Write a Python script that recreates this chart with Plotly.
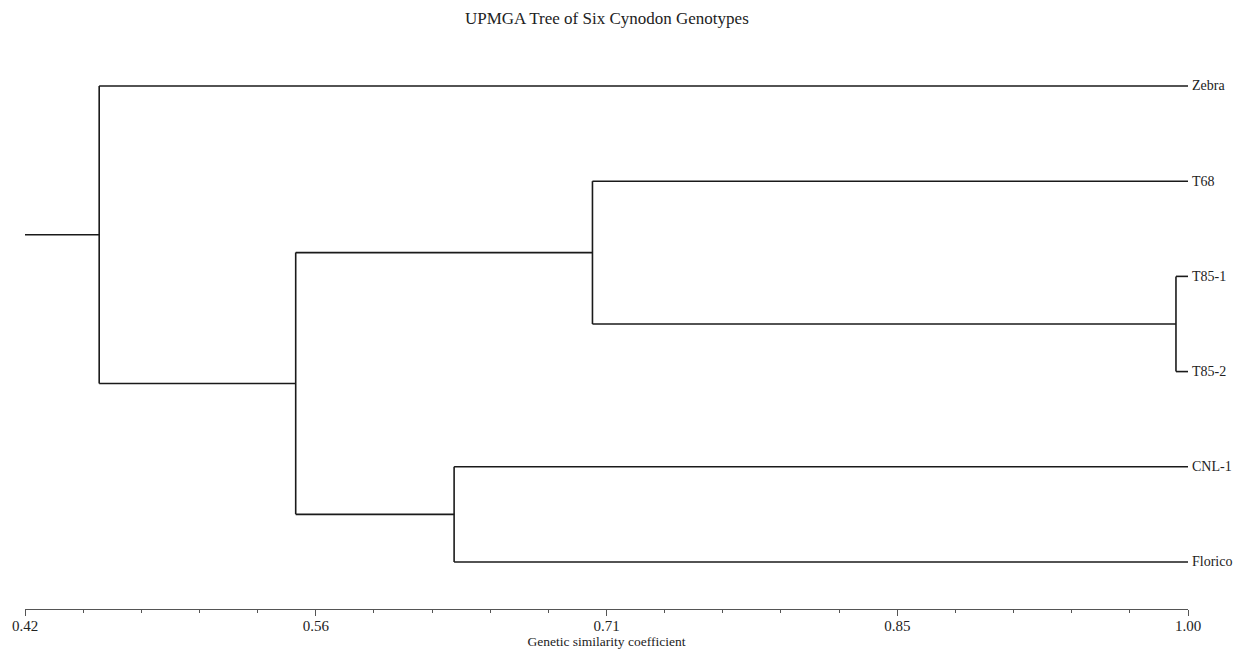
import plotly.graph_objects as go

# ---- data ----
leaves = ["Zebra", "T68", "T85-1", "T85-2", "CNL-1", "Florico"]
# merges: (child a, child b, similarity); ids >= 6 refer to earlier merges (6 = first merge, ...)
merge_a = [2, 4, 1, 7, 0]
merge_b = [3, 5, 6, 8, 9]
merge_sim = [0.994, 0.634, 0.703, 0.555, 0.457]
root_sim = 0.42
tick_vals = [0.42, 0.565, 0.71, 0.855, 1.00]
tick_text = ["0.42", "0.56", "0.71", "0.85", "1.00"]

# ---- build dendrogram coordinates ----
node_x = {i: 1.0 for i in range(len(leaves))}
node_y = {i: float(i) for i in range(len(leaves))}
xs, ys = [], []
for k, (a, b, s) in enumerate(zip(merge_a, merge_b, merge_sim)):
    nid = len(leaves) + k
    ya, yb = node_y[a], node_y[b]
    xs += [s, node_x[a], None, s, node_x[b], None]
    ys += [ya, ya, None, yb, yb, None]
    xs += [s, s, None]
    ys += [ya, yb, None]
    node_x[nid] = s
    node_y[nid] = (ya + yb) / 2
root = len(leaves) + len(merge_sim) - 1
xs += [root_sim, node_x[root], None]
ys += [node_y[root], node_y[root], None]

FONT = "Liberation Serif"

fig = go.Figure()
fig.add_trace(go.Scatter(x=xs, y=ys, mode="lines",
                         line=dict(color="#1a1a1a", width=1.6),
                         hoverinfo="skip", showlegend=False, cliponaxis=False))

for i, name in enumerate(leaves):
    fig.add_annotation(x=1.0, y=i, text=name, showarrow=False, xanchor="left",
                       yanchor="middle", xshift=2,
                       font=dict(family=FONT, size=14, color="#222"))

fig.update_layout(
    width=1241, height=654,
    margin=dict(l=25, r=53, t=38, b=45, autoexpand=False),
    paper_bgcolor="white", plot_bgcolor="white",
    title=dict(text="UPMGA Tree of Six Cynodon Genotypes", x=0.489, xanchor="center",
               y=0.973, yanchor="middle",
               font=dict(family=FONT, size=17, color="#222")),
    xaxis=dict(range=[0.42, 1.0], tickvals=tick_vals, ticktext=tick_text,
               automargin=False,
               showgrid=False, zeroline=False, showline=True, linecolor="#555",
               linewidth=1.2, ticks="outside", ticklen=6, tickcolor="#555",
               ticklabelstandoff=-3,
               tickfont=dict(family=FONT, size=15, color="#222"),
               title=dict(text="Genetic similarity coefficient", standoff=0,
                          font=dict(family=FONT, size=13.5, color="#222")),
               minor=dict(tick0=0.42, dtick=0.029, ticks="outside", ticklen=3,
                          tickcolor="#555", showgrid=False)),
    yaxis=dict(range=[5.494, -0.504], visible=False, showgrid=False, zeroline=False,
               automargin=False),
)

fig.write_html("out.html")
